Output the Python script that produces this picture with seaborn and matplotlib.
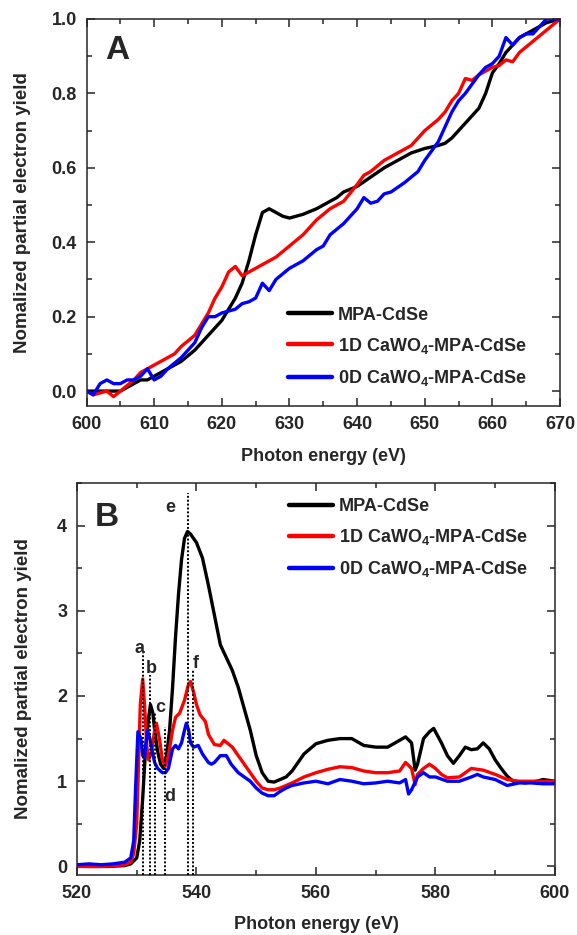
import numpy as np
import pandas as pd
import matplotlib
matplotlib.use("Agg")
import matplotlib.pyplot as plt
from matplotlib.ticker import MultipleLocator, FormatStrFormatter
import seaborn as sns

# ---------------- Panel A data (Se L-edge region) ----------------
a_black_x = [600, 603, 605, 607, 608, 609, 610, 612, 614, 616, 618, 620, 621, 622, 623, 624, 625, 626, 627, 628, 629, 630, 631,
             632, 634, 636, 637, 638, 640, 642, 644, 645, 647, 648, 650, 652, 653, 654, 655, 656, 657, 658, 659, 660, 661,
             662, 663, 664, 666, 668, 670]
a_black_y = [0.0, 0.0, 0.0, 0.02, 0.03, 0.03, 0.04, 0.06, 0.08, 0.11, 0.15, 0.19, 0.22, 0.25, 0.29, 0.35, 0.42, 0.48, 0.49, 0.48,
             0.47, 0.465, 0.47, 0.475, 0.49, 0.51, 0.52, 0.535, 0.55, 0.575, 0.6, 0.61, 0.63, 0.64, 0.652, 0.66, 0.666, 0.68,
             0.7, 0.72, 0.74, 0.76, 0.8, 0.855, 0.88, 0.91, 0.93, 0.95, 0.97, 0.99, 1.0]

a_red_x = [600, 601, 603, 604, 605, 607, 608, 610, 612, 613, 614, 616, 617, 618, 619, 620, 621, 622, 623, 624, 625, 626, 627,
           628, 630, 632, 634, 636, 638, 640, 641, 642, 644, 646, 648, 649, 650, 652, 653, 654, 655, 656, 657, 658, 660, 661,
           662, 663, 664, 666, 668, 670]
a_red_y = [0.0, -0.01, 0.0, -0.015, 0.0, 0.03, 0.05, 0.07, 0.09, 0.1, 0.12, 0.15, 0.18, 0.21, 0.25, 0.28, 0.32, 0.335, 0.31,
           0.32, 0.33, 0.34, 0.35, 0.36, 0.39, 0.42, 0.46, 0.49, 0.51, 0.555, 0.58, 0.59, 0.62, 0.64, 0.66, 0.68, 0.70, 0.73,
           0.75, 0.78, 0.8, 0.84, 0.835, 0.85, 0.87, 0.875, 0.89, 0.885, 0.91, 0.94, 0.97, 1.0]

a_blue_x = [600, 601, 602, 603, 604, 605, 606, 607, 608, 609, 610, 611, 612, 614, 616, 617, 618, 619, 620, 622, 623, 624,
            625, 626, 627, 628, 630, 632, 634, 635, 636, 638, 640, 641, 642, 643, 644, 645, 647, 649, 650, 652, 653, 654,
            655, 656, 658, 659, 660, 661, 662, 663, 664, 665, 666, 667, 668, 670]
a_blue_y = [0.0, -0.01, 0.02, 0.03, 0.02, 0.02, 0.03, 0.03, 0.04, 0.06, 0.03, 0.04, 0.06, 0.09, 0.13, 0.17, 0.2, 0.2,
            0.21, 0.22, 0.235, 0.24, 0.25, 0.29, 0.27, 0.3, 0.33, 0.35, 0.38, 0.39, 0.42, 0.45, 0.49, 0.52, 0.505, 0.51,
            0.53, 0.535, 0.56, 0.59, 0.62, 0.67, 0.71, 0.75, 0.78, 0.8, 0.85, 0.87, 0.88, 0.9, 0.95, 0.93, 0.95, 0.96,
            0.96, 0.98, 1.0, 1.0]

# ---------------- Panel B data (O K-edge region) ----------------
b_black_x = [520, 522, 525, 528, 529, 530, 530.5, 531, 531.5, 532, 532.3, 532.7, 533, 533.5, 534, 534.5, 535, 535.5, 536,
             536.5, 537, 537.5, 538, 538.5, 539, 540, 541, 542, 543, 544, 545, 546, 547, 548, 549, 550, 551, 552, 553,
             554, 555, 556, 557, 558, 560, 562, 564, 566, 568, 570, 572, 574, 575, 576, 576.6, 577, 577.5, 578, 579,
             579.7, 580, 581, 582, 583, 584, 585, 586, 587, 588, 589, 590, 591, 592, 593, 595, 597, 598, 600]
b_black_y = [0.02, 0.0, 0.0, 0.01, 0.03, 0.1, 0.3, 0.8, 1.4, 1.75, 1.9, 1.8, 1.6, 1.35, 1.2, 1.15, 1.3, 1.6, 2.1, 2.7,
             3.2, 3.6, 3.85, 3.93, 3.9, 3.8, 3.62, 3.3, 2.95, 2.6, 2.45, 2.3, 2.1, 1.85, 1.6, 1.3, 1.1, 1.0, 0.99, 1.02,
             1.05, 1.12, 1.22, 1.32, 1.44, 1.48, 1.5, 1.5, 1.42, 1.4, 1.4, 1.48, 1.52, 1.45, 1.13, 1.2, 1.35, 1.5, 1.58,
             1.62, 1.58, 1.45, 1.3, 1.21, 1.3, 1.4, 1.37, 1.38, 1.45, 1.38, 1.25, 1.15, 1.06, 1.0, 0.98, 1.0, 1.02, 1.0]

b_red_x = [520, 524, 528, 529, 529.5, 530, 530.3, 530.6, 531, 531.3, 531.7, 532, 532.5, 533, 533.3, 533.8, 534.3, 534.8,
           535.3, 536, 536.5, 537.2, 538, 538.6, 539, 539.5, 540, 540.6, 541.5, 542, 543, 544, 544.6, 546, 547, 548, 549,
           550, 551, 552, 553, 554, 556, 558, 560, 562, 564, 566, 568, 570, 572, 574, 575, 576, 576.6, 577, 578, 579,
           580, 581, 582, 584, 586, 588, 590, 592, 594, 596, 598, 600]
b_red_y = [0.0, 0.0, 0.02, 0.05, 0.15, 0.5, 1.2, 1.9, 2.2, 1.9, 1.4, 1.25, 1.35, 1.6, 1.68, 1.5, 1.25, 1.18, 1.3, 1.6,
           1.75, 1.8, 1.95, 2.12, 2.17, 2.05, 1.9, 1.78, 1.7, 1.55, 1.43, 1.42, 1.48, 1.4, 1.3, 1.2, 1.1, 1.0, 0.92,
           0.9, 0.9, 0.92, 0.98, 1.05, 1.1, 1.14, 1.17, 1.16, 1.12, 1.1, 1.1, 1.12, 1.22, 1.15, 0.96, 1.08, 1.15, 1.2,
           1.15, 1.08, 1.04, 1.05, 1.15, 1.13, 1.08, 1.02, 1.0, 1.0, 1.0, 1.0]

b_blue_x = [520, 522, 524, 526, 528, 529, 529.5, 529.8, 530.2, 530.7, 531, 531.3, 531.8, 532.2, 532.6, 533, 533.5, 534.3,
            534.8, 535.3, 536, 536.5, 537, 537.5, 538, 538.3, 538.7, 539, 539.5, 540.3, 541, 542, 542.5, 543, 544, 545,
            545.8, 547, 548, 549, 550, 551, 552, 553, 554, 555, 556, 558, 560, 562, 564, 566, 568, 570, 572, 574, 575,
            575.5, 576, 577, 578, 579, 580, 582, 584, 586, 587, 588, 590, 592, 594, 596, 598, 600]
b_blue_y = [0.02, 0.03, 0.02, 0.03, 0.05, 0.1, 0.3, 0.9, 1.58, 1.5, 1.3, 1.28, 1.6, 1.5, 1.35, 1.22, 1.15, 1.1, 1.1,
            1.15, 1.38, 1.42, 1.38, 1.45, 1.6, 1.68, 1.6, 1.45, 1.4, 1.42, 1.32, 1.22, 1.2, 1.22, 1.3, 1.3, 1.2, 1.1,
            1.05, 1.0, 0.92, 0.86, 0.83, 0.83, 0.88, 0.92, 0.95, 0.98, 1.0, 0.97, 1.02, 1.0, 0.97, 0.98, 1.0, 0.98,
            1.02, 0.85, 0.9, 1.05, 1.1, 1.05, 1.05, 1.0, 1.0, 1.05, 1.08, 1.05, 1.02, 0.95, 0.98, 0.98, 0.97, 0.97]

series_names = ["MPA-CdSe", r"1D CaWO$_\mathbf{4}$-MPA-CdSe", r"0D CaWO$_\mathbf{4}$-MPA-CdSe"]
series_colors = ["#000000", "#ff0000", "#0000ff"]

# Dotted marker lines in panel B: (x position, top y) and letter labels
marker_x = [531.0, 532.2, 533.05, 534.8, 538.5, 539.4]
marker_top = [2.5, 2.25, 1.8, 1.64, 4.38, 2.32]
letters = ["a", "b", "c", "d", "e", "f"]
letter_x = [530.4, 532.5, 533.9, 535.6, 535.6, 539.9]
letter_y = [2.56, 2.32, 1.87, 0.82, 4.21, 2.38]

# ---------------- styling ----------------
sns.set_style("ticks")
plt.rcParams["font.family"] = ["Liberation Sans", "DejaVu Sans"]
plt.rcParams["font.weight"] = "bold"
plt.rcParams["mathtext.fontset"] = "custom"
plt.rcParams["mathtext.rm"] = "Liberation Sans:bold"
plt.rcParams["mathtext.bf"] = "Liberation Sans:bold"
plt.rcParams["mathtext.it"] = "Liberation Sans:bold"
plt.rcParams["axes.linewidth"] = 1.1

fig = plt.figure(figsize=(5.77, 9.35), dpi=100)
axA = fig.add_axes([0.150, 0.5658, 0.8206, 0.4139])
axB = fig.add_axes([0.1334, 0.0642, 0.8284, 0.4193])


def make_df(xs, ys):
    frames = []
    for name, x, y in zip(series_names, xs, ys):
        frames.append(pd.DataFrame({"x": x, "y": y, "s": name}))
    return pd.concat(frames, ignore_index=True)


dfA = make_df([a_black_x, a_red_x, a_blue_x], [a_black_y, a_red_y, a_blue_y])
dfB = make_df([b_black_x, b_red_x, b_blue_x], [b_black_y, b_red_y, b_blue_y])

pal = dict(zip(series_names, series_colors))
for ax, df in ((axA, dfA), (axB, dfB)):
    sns.lineplot(data=df, x="x", y="y", hue="s", palette=pal, ax=ax, lw=2.4,
                 estimator=None, sort=True, legend=False)

# dotted markers in B
for mx, mt in zip(marker_x, marker_top):
    axB.plot([mx, mx], [-0.1, mt], ls=(0, (1, 1)), color="black", lw=1.4, zorder=5)
for lx, ly, t in zip(letter_x, letter_y, letters):
    axB.text(lx, ly, t, fontsize=13, fontweight="bold", ha="center", va="center")

# axes formatting
axA.set_xlim(600, 670)
axA.set_ylim(-0.04, 1.0)
axA.xaxis.set_major_locator(MultipleLocator(10))
axA.xaxis.set_minor_locator(MultipleLocator(5))
axA.yaxis.set_major_locator(MultipleLocator(0.2))
axA.yaxis.set_minor_locator(MultipleLocator(0.1))
axA.yaxis.set_major_formatter(FormatStrFormatter("%.1f"))

axB.set_xlim(520, 600)
axB.set_ylim(-0.1, 4.5)
axB.xaxis.set_major_locator(MultipleLocator(20))
axB.xaxis.set_minor_locator(MultipleLocator(10))
axB.yaxis.set_major_locator(MultipleLocator(1))
axB.yaxis.set_minor_locator(MultipleLocator(0.5))

settings = {
    "A": dict(ax=axA, letter_pos=(0.0655, 0.9186), ylab=(-0.117, 0.5), xlab=(0.5, -0.1085), leg=(0.4256, 0.257)),
    "B": dict(ax=axB, letter_pos=(0.062, 0.913), ylab=(-0.094, 0.5), xlab=(0.5, -0.1046), leg=(0.4435, 0.962)),
}

for letter, s in settings.items():
    ax = s["ax"]
    ax.tick_params(which="both", direction="in", top=True, right=True, width=1.1)
    ax.tick_params(which="major", length=6, labelsize=13, pad=7)
    ax.tick_params(which="minor", length=3.5)
    for lab in ax.get_xticklabels() + ax.get_yticklabels():
        lab.set_fontweight("bold")
    ax.set_xlabel("Photon energy (eV)", fontsize=13, fontweight="bold")
    ax.set_ylabel("Nomalized partial electron yield", fontsize=13.5, fontweight="bold")
    ax.xaxis.set_label_coords(*s["xlab"])
    ax.yaxis.set_label_coords(*s["ylab"])
    ax.text(*s["letter_pos"], letter, transform=ax.transAxes,
            fontsize=24, fontweight="bold", ha="center", va="center")
    handles = [matplotlib.lines.Line2D([], [], color=c, lw=3.2) for c in series_colors]
    ax.legend(handles, series_names, frameon=False, loc="upper left",
              bbox_to_anchor=s["leg"], borderaxespad=0, borderpad=0,
              handlelength=2.45, handletextpad=0.3, labelspacing=0.68,
              prop={"weight": "bold", "size": 13})

fig.savefig("out.png", dpi=100)
